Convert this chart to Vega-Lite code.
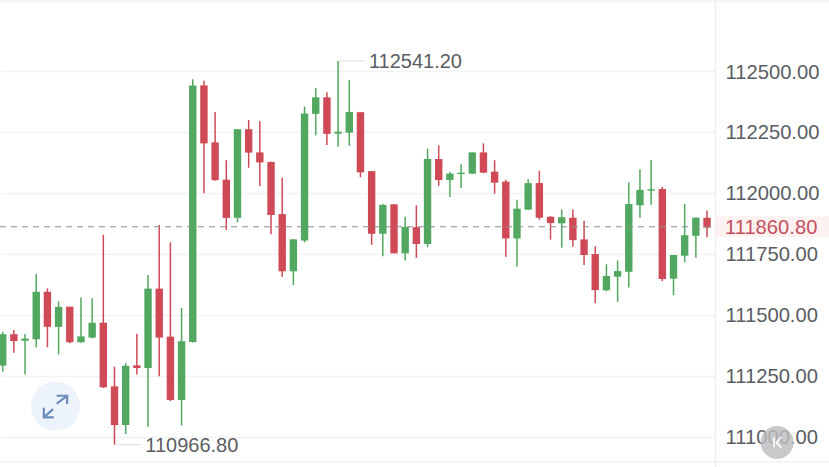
{
"$schema":"https://vega.github.io/schema/vega-lite/v6.json",
"width":715,"height":467,
"autosize":{"type":"none"},
"padding":{"left":0,"top":0,"right":114,"bottom":0},
"background":"#ffffff",
"config":{"view":{"stroke":null},"font":"Liberation Sans"},
"datasets":{
"candles":[
{"i":0,"h":111430,"o":111291,"c":111420,"l":111266,"d":"up"},
{"i":1,"h":111437,"o":111420,"c":111392,"l":111344,"d":"down"},
{"i":2,"h":111421,"o":111393,"c":111402,"l":111255,"d":"up"},
{"i":3,"h":111667,"o":111399,"c":111594,"l":111366,"d":"up"},
{"i":4,"h":111608,"o":111594,"c":111450,"l":111366,"d":"down"},
{"i":5,"h":111555,"o":111450,"c":111532,"l":111337,"d":"up"},
{"i":6,"h":111533,"o":111533,"c":111387,"l":111383,"d":"down"},
{"i":7,"h":111571,"o":111387,"c":111411,"l":111385,"d":"up"},
{"i":8,"h":111567,"o":111406,"c":111467,"l":111402,"d":"up"},
{"i":9,"h":111828,"o":111467,"c":111202,"l":111199,"d":"down"},
{"i":10,"h":111287,"o":111206,"c":111047,"l":110966.8,"d":"down"},
{"i":11,"h":111301,"o":111047,"c":111291,"l":111010,"d":"up"},
{"i":12,"h":111422,"o":111292,"c":111281,"l":111255,"d":"down"},
{"i":13,"h":111663,"o":111281,"c":111607,"l":111040,"d":"up"},
{"i":14,"h":111868,"o":111607,"c":111406,"l":111247,"d":"down"},
{"i":15,"h":111797,"o":111410,"c":111150,"l":111146,"d":"down"},
{"i":16,"h":111528,"o":111150,"c":111391,"l":111045,"d":"up"},
{"i":17,"h":112466,"o":111388,"c":112441,"l":111386,"d":"up"},
{"i":18,"h":112460,"o":112441,"c":112203,"l":111998,"d":"down"},
{"i":19,"h":112332,"o":112207,"c":112052,"l":112050,"d":"down"},
{"i":20,"h":112134,"o":112054,"c":111897,"l":111848,"d":"down"},
{"i":21,"h":112262,"o":111898,"c":112261,"l":111879,"d":"up"},
{"i":22,"h":112299,"o":112261,"c":112165,"l":112103,"d":"down"},
{"i":23,"h":112294,"o":112166,"c":112125,"l":112028,"d":"down"},
{"i":24,"h":112128,"o":112127,"c":111909,"l":111830,"d":"down"},
{"i":25,"h":112062,"o":111913,"c":111678,"l":111656,"d":"down"},
{"i":26,"h":111811,"o":111678,"c":111809,"l":111622,"d":"up"},
{"i":27,"h":112354,"o":111804,"c":112326,"l":111797,"d":"up"},
{"i":28,"h":112430,"o":112324,"c":112392,"l":112236,"d":"up"},
{"i":29,"h":112413,"o":112392,"c":112242,"l":112196,"d":"down"},
{"i":30,"h":112541.2,"o":112243,"c":112251,"l":112189,"d":"up"},
{"i":31,"h":112463,"o":112247,"c":112332,"l":112193,"d":"up"},
{"i":32,"h":112331,"o":112331,"c":112084,"l":112064,"d":"down"},
{"i":33,"h":112090,"o":112089,"c":111832,"l":111787,"d":"down"},
{"i":34,"h":111953,"o":111832,"c":111951,"l":111740,"d":"up"},
{"i":35,"h":111953,"o":111953,"c":111752,"l":111751,"d":"down"},
{"i":36,"h":111902,"o":111752,"c":111860,"l":111722,"d":"up"},
{"i":37,"h":111949,"o":111859,"c":111790,"l":111733,"d":"down"},
{"i":38,"h":112181,"o":111790,"c":112139,"l":111777,"d":"up"},
{"i":39,"h":112195,"o":112139,"c":112053,"l":112029,"d":"down"},
{"i":40,"h":112087,"o":112053,"c":112079,"l":111983,"d":"up"},
{"i":41,"h":112117,"o":112077,"c":112083,"l":112020,"d":"up"},
{"i":42,"h":112166,"o":112079,"c":112166,"l":112077,"d":"up"},
{"i":43,"h":112203,"o":112166,"c":112083,"l":112080,"d":"down"},
{"i":44,"h":112134,"o":112087,"c":112042,"l":111996,"d":"down"},
{"i":45,"h":112054,"o":112046,"c":111813,"l":111738,"d":"down"},
{"i":46,"h":111972,"o":111813,"c":111935,"l":111697,"d":"up"},
{"i":47,"h":112056,"o":111931,"c":112040,"l":111930,"d":"up"},
{"i":48,"h":112091,"o":112040,"c":111898,"l":111889,"d":"down"},
{"i":49,"h":111904,"o":111902,"c":111876,"l":111808,"d":"down"},
{"i":50,"h":111932,"o":111875,"c":111900,"l":111775,"d":"up"},
{"i":51,"h":111932,"o":111898,"c":111806,"l":111779,"d":"down"},
{"i":52,"h":111886,"o":111809,"c":111745,"l":111704,"d":"down"},
{"i":53,"h":111781,"o":111749,"c":111601,"l":111547,"d":"down"},
{"i":54,"h":111707,"o":111600,"c":111659,"l":111596,"d":"up"},
{"i":55,"h":111723,"o":111656,"c":111679,"l":111553,"d":"up"},
{"i":56,"h":112043,"o":111676,"c":111954,"l":111612,"d":"up"},
{"i":57,"h":112097,"o":111949,"c":112012,"l":111898,"d":"up"},
{"i":58,"h":112135,"o":112009,"c":112015,"l":111951,"d":"up"},
{"i":59,"h":112025,"o":112016,"c":111646,"l":111638,"d":"down"},
{"i":60,"h":111745,"o":111648,"c":111745,"l":111580,"d":"up"},
{"i":61,"h":111955,"o":111742,"c":111826,"l":111715,"d":"up"},
{"i":62,"h":111900,"o":111824,"c":111898,"l":111734,"d":"up"},
{"i":63,"h":111928,"o":111898,"c":111857,"l":111818,"d":"down"}
],
"frame":[{"a":-0.24,"b":73.91,"p":112787},{"a":-0.24,"b":73.91,"p":110897}],
"last":[{"a":-0.24,"b":63.71,"p":111860.8}],
"lastBand":[{"a":63.78,"b":73.91,"p":111860.8}],
"lastLabel":[{"a":64.6,"p":111860.8,"t":"111860.80"}],
"extremes":[{"a":10.1,"b":12.3,"la":12.8,"p":110966.8,"t":"110966.80"},{"a":30,"b":32.4,"la":32.8,"p":112541.2,"t":"112541.20"}],
"btnExpand":[{"a":4.72,"p":111125}],
"btnTop":[{"a":69.26,"p":110976}]
},
"layer":[
{"data":{"name":"frame"},"mark":{"type":"rule","color":"#f1f2f4","strokeWidth":1.5},
 "encoding":{
  "x":{"field":"a","type":"quantitative","scale":{"domain":[-0.2415,63.712],"nice":false,"zero":false,"padding":0},"axis":null},
  "x2":{"field":"b"},
  "y":{"field":"p","type":"quantitative","scale":{"domain":[110875,112791.4],"nice":false,"zero":false,"padding":0},
   "axis":{"orient":"right","title":null,"values":[111000,111250,111500,111750,112000,112250,112500],"format":".2f","ticks":false,"grid":true,"gridColor":"#f1f2f4","gridWidth":1.5,"domain":true,"domainColor":"#eff0f2","domainWidth":1.5,"labelFont":"Liberation Sans","labelFontSize":20.2,"labelColor":"#5a5d62","labelPadding":10,"labelOffset":1,"labelAlign":"left","labelBaseline":"middle"}}}},
{"data":{"name":"lastBand"},"mark":{"type":"rule","color":"#fdf1f1","strokeWidth":21,"clip":false},
 "encoding":{"x":{"field":"a","type":"quantitative"},"x2":{"field":"b"},"y":{"field":"p","type":"quantitative"}}},
{"data":{"name":"candles"},"mark":{"type":"rule","strokeWidth":1.5},
 "encoding":{"x":{"field":"i","type":"quantitative"},"y":{"field":"h","type":"quantitative"},"y2":{"field":"l"},
  "color":{"field":"d","type":"nominal","legend":null,"scale":{"domain":["up","down"],"range":["#52a860","#cf4a56"]}}}},
{"data":{"name":"candles"},"mark":{"type":"bar","size":7.4},
 "encoding":{"x":{"field":"i","type":"quantitative"},"y":{"field":"o","type":"quantitative"},"y2":{"field":"c"},
  "color":{"field":"d","type":"nominal","legend":null,"scale":{"domain":["up","down"],"range":["#52a860","#cf4a56"]}}}},
{"data":{"name":"last"},"mark":{"type":"rule","color":"#8a8d92","strokeWidth":1,"strokeDash":[6,5]},
 "encoding":{"x":{"field":"a","type":"quantitative"},"x2":{"field":"b"},"y":{"field":"p","type":"quantitative"}}},
{"data":{"name":"lastLabel"},"mark":{"type":"text","align":"left","baseline":"middle","fontSize":20.2,"dy":1,"font":"Liberation Sans","color":"#c4505e","clip":false},
 "encoding":{"x":{"field":"a","type":"quantitative"},"y":{"field":"p","type":"quantitative"},"text":{"field":"t"}}},
{"data":{"name":"extremes"},"mark":{"type":"rule","color":"#d9dbde","strokeWidth":1},
 "encoding":{"x":{"field":"a","type":"quantitative"},"x2":{"field":"b"},"y":{"field":"p","type":"quantitative"}}},
{"data":{"name":"extremes"},"mark":{"type":"text","align":"left","baseline":"middle","fontSize":20,"dy":1,"dx":-0.5,"font":"Liberation Sans","color":"#5a5d62"},
 "encoding":{"x":{"field":"la","type":"quantitative"},"y":{"field":"p","type":"quantitative"},"text":{"field":"t"}}},
{"data":{"name":"btnExpand"},"mark":{"type":"point","shape":"circle","filled":true,"size":2401,"color":"#edf3fb","opacity":1},
 "encoding":{"x":{"field":"a","type":"quantitative"},"y":{"field":"p","type":"quantitative"}}},
{"data":{"name":"btnExpand"},"mark":{"type":"point","shape":"M.1,-.86L.97,-.86L.97,-.17M.97,-.86L.1,-.2M-.97,.14L-.97,.94L-.14,.94M-.97,.94L-.2,.25","filled":false,"size":576,"stroke":"#6e8dbd","strokeWidth":2.2,"opacity":1},
 "encoding":{"x":{"field":"a","type":"quantitative"},"y":{"field":"p","type":"quantitative"}}},
{"data":{"name":"btnTop"},"mark":{"type":"point","shape":"circle","filled":true,"size":1089,"color":"#bcbdbf","opacity":0.82,"clip":false},
 "encoding":{"x":{"field":"a","type":"quantitative"},"y":{"field":"p","type":"quantitative"}}},
{"data":{"name":"btnTop"},"mark":{"type":"point","shape":"M-.5,-.8L-.5,.8M.7,-.9L-.1,0L.7,.9","filled":false,"size":144,"stroke":"#ffffff","strokeWidth":2,"opacity":0.85,"clip":false},
 "encoding":{"x":{"field":"a","type":"quantitative"},"y":{"field":"p","type":"quantitative"}}}
]
}
